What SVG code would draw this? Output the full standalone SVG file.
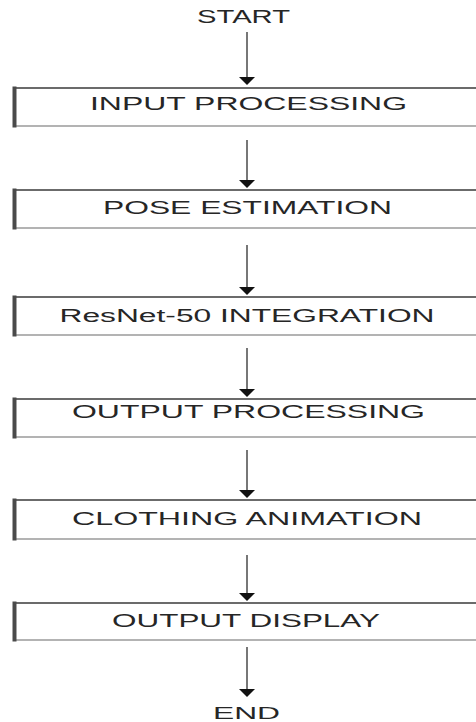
<svg xmlns="http://www.w3.org/2000/svg" width="476" height="722" viewBox="0 0 476 722">
<style>
.lbl{font-family:"Liberation Sans",Arial,sans-serif;font-size:18px;fill:#262626;text-anchor:middle}
.top{stroke:#3a3a3a;stroke-width:1.5}
.bot{stroke:#9a9a9a;stroke-width:1.5}
.lft{stroke:#4a4a4a;stroke-width:4}
.ln{stroke:#555;stroke-width:1.6;fill:none}
.hd{fill:#111}
</style>
<rect width="476" height="722" fill="#fff"/>
<g id="connectors">
<line class="ln" x1="247" y1="32" x2="247" y2="78"/><path class="hd" d="M239,77 L255,77 L247,85 Z"/>
<line class="ln" x1="247" y1="140" x2="247" y2="181"/><path class="hd" d="M239,180 L255,180 L247,188 Z"/>
<line class="ln" x1="247" y1="245" x2="247" y2="288"/><path class="hd" d="M239,287 L255,287 L247,295 Z"/>
<line class="ln" x1="247" y1="348" x2="247" y2="390"/><path class="hd" d="M239,389 L255,389 L247,397 Z"/>
<line class="ln" x1="247" y1="450" x2="247" y2="491"/><path class="hd" d="M239,490 L255,490 L247,498 Z"/>
<line class="ln" x1="247" y1="555" x2="247" y2="594"/><path class="hd" d="M239,593 L255,593 L247,601 Z"/>
<line class="ln" x1="247" y1="647" x2="247" y2="690"/><path class="hd" d="M239,689 L255,689 L247,697 Z"/>
</g>
<g id="start"><text class="lbl" x="243.5" y="23" textLength="93" lengthAdjust="spacingAndGlyphs">START</text></g>
<g id="n1">
<line class="top" x1="15" y1="88" x2="476" y2="88"/><line class="bot" x1="15" y1="126" x2="476" y2="126"/><line class="lft" x1="14.5" y1="86.5" x2="14.5" y2="127.5"/>
<text class="lbl" x="248.5" y="110" textLength="317" lengthAdjust="spacingAndGlyphs">INPUT PROCESSING</text>
</g>
<g id="n2">
<line class="top" x1="15" y1="190" x2="476" y2="190"/><line class="bot" x1="15" y1="228" x2="476" y2="228"/><line class="lft" x1="14.5" y1="188.5" x2="14.5" y2="229.5"/>
<text class="lbl" x="247.5" y="214" textLength="289" lengthAdjust="spacingAndGlyphs">POSE ESTIMATION</text>
</g>
<g id="n3">
<line class="top" x1="15" y1="297" x2="476" y2="297"/><line class="bot" x1="15" y1="335" x2="476" y2="335"/><line class="lft" x1="14.5" y1="295.5" x2="14.5" y2="336.5"/>
<text class="lbl" x="247" y="322" textLength="375" lengthAdjust="spacingAndGlyphs">ResNet-50 INTEGRATION</text>
</g>
<g id="n4">
<line class="top" x1="15" y1="399" x2="476" y2="399"/><line class="bot" x1="15" y1="437" x2="476" y2="437"/><line class="lft" x1="14.5" y1="397.5" x2="14.5" y2="438.5"/>
<text class="lbl" x="248.5" y="418" textLength="353" lengthAdjust="spacingAndGlyphs">OUTPUT PROCESSING</text>
</g>
<g id="n5">
<line class="top" x1="15" y1="500" x2="476" y2="500"/><line class="bot" x1="15" y1="539" x2="476" y2="539"/><line class="lft" x1="14.5" y1="498.5" x2="14.5" y2="540.5"/>
<text class="lbl" x="247" y="525" textLength="350" lengthAdjust="spacingAndGlyphs">CLOTHING ANIMATION</text>
</g>
<g id="n6">
<line class="top" x1="15" y1="603" x2="476" y2="603"/><line class="bot" x1="15" y1="640" x2="476" y2="640"/><line class="lft" x1="14.5" y1="601.5" x2="14.5" y2="641.5"/>
<text class="lbl" x="246" y="627" textLength="268" lengthAdjust="spacingAndGlyphs">OUTPUT DISPLAY</text>
</g>
<g id="end"><text class="lbl" x="246.5" y="718.5" style="font-size:16px" textLength="67" lengthAdjust="spacingAndGlyphs">END</text></g>
</svg>
